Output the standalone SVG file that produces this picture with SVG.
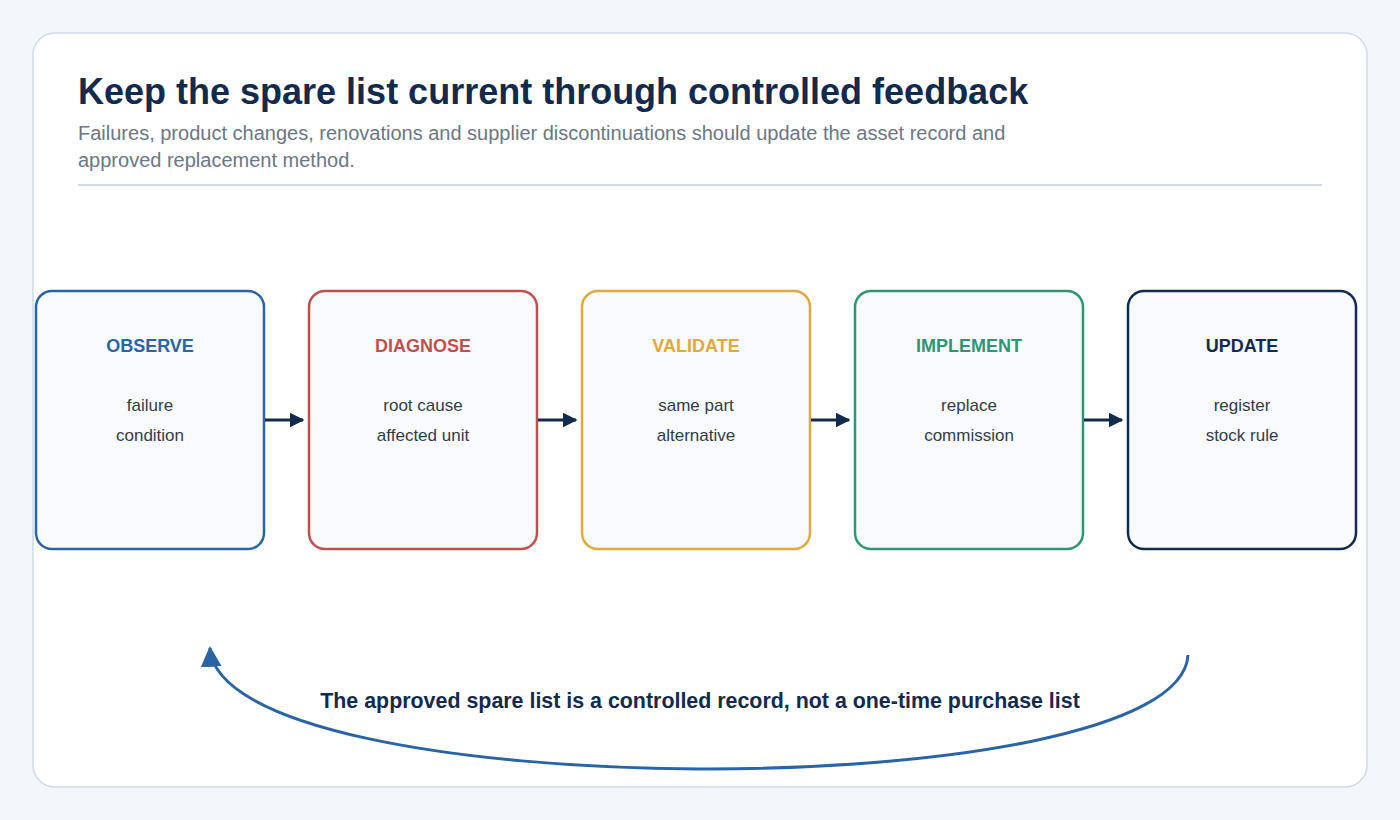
<svg xmlns="http://www.w3.org/2000/svg" width="1400" height="820" viewBox="0 0 1400 820">
<defs>
<style>
.box{fill:#f8fafd;stroke-width:2.5}
.lbl{font-family:"Liberation Sans",Arial,sans-serif;font-size:18px;font-weight:bold;text-anchor:middle}
.txt{font-family:"Liberation Sans",Arial,sans-serif;font-size:17px;fill:#333d48;text-anchor:middle}
.arr{stroke:#132a4f;stroke-width:3;fill:none;marker-end:url(#ah)}
</style>
<marker id="ah" viewBox="0 0 10 10" refX="9" refY="5" markerWidth="5" markerHeight="5" orient="auto"><path d="M0,0L10,5L0,10z" fill="#132a4f"/></marker>
<marker id="ah2" viewBox="0 0 10 10" refX="9" refY="5" markerWidth="7" markerHeight="7" orient="auto"><path d="M0,0L10,5L0,10z" fill="#2a64a4"/></marker>
</defs>
<rect width="1400" height="820" fill="#f3f6fa"/>
<rect x="33" y="33" width="1334" height="754" rx="22" fill="#fff" stroke="#d0dae6" stroke-width="1.5"/>
<text x="78" y="104" font-family="Liberation Sans,Arial,sans-serif" font-size="36" font-weight="bold" fill="#132a4f">Keep the spare list current through controlled feedback</text>
<text font-family="Liberation Sans,Arial,sans-serif" font-size="20" fill="#6b7785"><tspan x="78" y="140">Failures, product changes, renovations and supplier discontinuations should update the asset record and</tspan><tspan x="78" y="167">approved replacement method.</tspan></text>
<line x1="78" y1="185" x2="1322" y2="185" stroke="#d0dae6" stroke-width="2"/>
<g id="observe"><rect class="box" x="36" y="291" width="228" height="258" rx="16" stroke="#2a64a4"/><text class="lbl" x="150" y="352" fill="#2a64a4">OBSERVE</text><text class="txt" x="150" y="411">failure</text><text class="txt" x="150" y="441">condition</text></g>
<g id="diagnose"><rect class="box" x="309" y="291" width="228" height="258" rx="16" stroke="#c0504d"/><text class="lbl" x="423" y="352" fill="#c0504d">DIAGNOSE</text><text class="txt" x="423" y="411">root cause</text><text class="txt" x="423" y="441">affected unit</text></g>
<g id="validate"><rect class="box" x="582" y="291" width="228" height="258" rx="16" stroke="#e0a93b"/><text class="lbl" x="696" y="352" fill="#e0a93b">VALIDATE</text><text class="txt" x="696" y="411">same part</text><text class="txt" x="696" y="441">alternative</text></g>
<g id="implement"><rect class="box" x="855" y="291" width="228" height="258" rx="16" stroke="#2e9670"/><text class="lbl" x="969" y="352" fill="#2e9670">IMPLEMENT</text><text class="txt" x="969" y="411">replace</text><text class="txt" x="969" y="441">commission</text></g>
<g id="update"><rect class="box" x="1128" y="291" width="228" height="258" rx="16" stroke="#132a4f"/><text class="lbl" x="1242" y="352" fill="#132a4f">UPDATE</text><text class="txt" x="1242" y="411">register</text><text class="txt" x="1242" y="441">stock rule</text></g>
<g id="connectors">
<line class="arr" x1="265" y1="420" x2="303" y2="420"/>
<line class="arr" x1="538" y1="420" x2="576" y2="420"/>
<line class="arr" x1="811" y1="420" x2="849" y2="420"/>
<line class="arr" x1="1084" y1="420" x2="1122" y2="420"/>
<path d="M1188,655 C1180,808 220,808 210,648" fill="none" stroke="#2a64a4" stroke-width="3" marker-end="url(#ah2)"/>
</g>
<text x="700" y="708" font-family="Liberation Sans,Arial,sans-serif" font-size="21.4" font-weight="bold" fill="#132a4f" text-anchor="middle">The approved spare list is a controlled record, not a one-time purchase list</text>
</svg>
